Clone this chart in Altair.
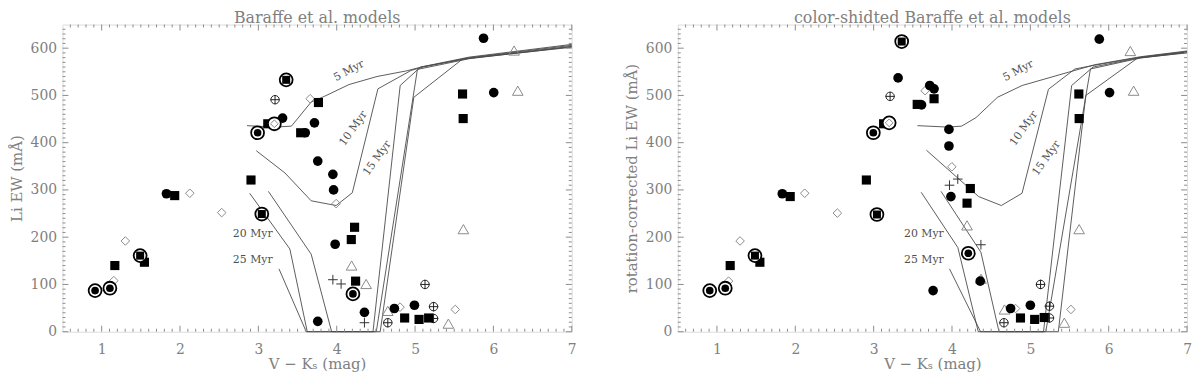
import altair as alt
import pandas as pd
import numpy as np

FONT = "DejaVu Serif"
TXT = "#808080"
AXC = "#8c8c8c"
LINEC = "#4a4a4a"
OPENC = "#8a8a8a"

W, H = 514, 310
X_DOMAIN = [0.5, 7.0]
Y_DOMAIN = [0, 650]
X_TICKS = [1, 2, 3, 4, 5, 6, 7]
Y_TICKS = [0, 100, 200, 300, 400, 500, 600]

TRACKS = ["5 Myr", "10 Myr", "15 Myr", "20 Myr", "25 Myr"]
LAB_ANGLE = [332, 305, 305, 0, 0]

# ---------------- left panel: Baraffe et al. models ----------------
L_5_X = [2.855, 3.213, 3.422, 3.674, 3.842, 4.157, 4.514, 4.892, 5.1, 5.688, 7.0]
L_5_Y = [436, 433, 435, 486, 498, 523, 540, 552, 561, 581, 608]
L_10_X = [2.973, 3.339, 3.674, 3.993, 4.199, 4.526, 4.95, 5.1, 5.7, 7.0]
L_10_Y = [383, 336, 277, 267, 294, 514, 553, 560, 580, 606]
L_15_X = [3.128, 3.674, 3.935, 4.463, 4.81, 5.07, 5.7, 7.0]
L_15_Y = [297, 164, 0, 0, 521, 560, 579, 604]
L_20_X = [2.889, 3.402, 3.624, 4.505, 5.03, 5.7, 7.0]
L_20_Y = [293, 175, 0, 0, 555, 578, 603]
L_25_X = [3.263, 3.611, 4.555, 4.984, 5.606, 7.0]
L_25_Y = [133, 0, 0, 496, 577, 602]
L_LAB_X = [4.157, 4.214, 4.518, 2.928, 2.928]
L_LAB_Y = [552, 430, 367, 206, 152]

L_CIRC_X = [1.827, 3.309, 3.598, 3.716, 3.758, 3.951, 3.96, 3.98, 3.758, 5.874, 6.004, 4.354, 4.736, 4.992]
L_CIRC_Y = [292, 452, 421, 442, 361, 333, 300, 185, 22, 621, 506, 41, 49, 56]
L_SQ_X = [1.168, 1.546, 1.932, 2.906, 3.12, 3.54, 3.767, 4.228, 4.186, 4.241, 5.606, 5.614, 4.867, 5.051, 5.173]
L_SQ_Y = [140, 147, 288, 321, 440, 421, 485, 221, 195, 107, 503, 451, 29, 26, 29]
L_RCIRC_X = [0.916, 1.105, 2.99, 4.207]
L_RCIRC_Y = [87, 92, 421, 80]
L_RSQ_X = [1.491, 3.044, 3.355]
L_RSQ_Y = [161, 249, 533]
L_RDIA_X = [3.204]
L_RDIA_Y = [440]
L_DIA_X = [1.155, 1.302, 2.125, 2.532, 3.661, 3.993, 4.808, 5.513]
L_DIA_Y = [108, 192, 293, 252, 493, 271, 52, 47]
L_TRI_X = [4.19, 4.375, 6.264, 6.311, 5.617, 5.425, 4.652]
L_TRI_Y = [140, 101, 595, 510, 217, 17, 44]
L_OPLUS_X = [3.213, 5.127, 5.236, 5.236, 4.652]
L_OPLUS_Y = [491, 100, 53, 28, 19]
L_PLUS_X = [3.951, 4.056, 4.354]
L_PLUS_Y = [110, 101, 19]

# ---------------- right panel: colour-shifted models ----------------
R_5_X = [3.559, 3.948, 4.123, 4.306, 4.58, 4.895, 5.484, 5.822, 6.411, 7.0]
R_5_Y = [436, 433, 435, 453, 496, 521, 549, 565, 582, 594]
R_10_X = [3.674, 4.34, 4.63, 4.894, 5.231, 5.569, 5.822, 6.411, 7.0]
R_10_Y = [384, 286, 267, 293, 513, 556, 564, 581, 593]
R_15_X = [3.86, 4.369, 4.6, 5.168, 5.527, 5.8, 6.4, 7.0]
R_15_Y = [297, 168, 0, 0, 521, 560, 580, 592]
R_20_X = [3.607, 4.075, 4.335, 5.197, 5.767, 6.4, 7.0]
R_20_Y = [295, 178, 0, 0, 556, 579, 591]
R_25_X = [3.968, 4.365, 5.357, 5.708, 6.368, 7.0]
R_25_Y = [133, 0, 0, 500, 579, 590]
R_LAB_X = [4.846, 4.918, 5.207, 3.641, 3.641]
R_LAB_Y = [552, 430, 367, 206, 152]

R_CIRC_X = [1.834, 3.312, 3.611, 3.716, 3.771, 3.961, 3.961, 3.986, 3.759, 4.36, 5.88, 6.011, 4.748, 5.0]
R_CIRC_Y = [292, 537, 480, 521, 514, 428, 393, 286, 87, 107, 619, 506, 49, 56]
R_SQ_X = [1.169, 1.548, 1.935, 2.907, 3.127, 3.556, 3.771, 4.234, 4.192, 5.619, 5.623, 4.874, 5.055, 5.177]
R_SQ_Y = [140, 147, 286, 321, 440, 481, 493, 303, 272, 503, 451, 29, 26, 30]
R_RCIRC_X = [0.908, 1.106, 2.996, 4.208]
R_RCIRC_Y = [87, 92, 421, 166]
R_RSQ_X = [1.485, 3.042, 3.358]
R_RSQ_Y = [161, 248, 614]
R_RDIA_X = [3.198]
R_RDIA_Y = [442]
R_DIA_X = [1.148, 1.295, 2.12, 2.537, 3.657, 3.998, 4.811, 5.518]
R_DIA_Y = [107, 192, 293, 251, 510, 349, 49, 47]
R_TRI_X = [4.192, 6.276, 6.318, 5.623, 5.434, 4.67, 4.37]
R_TRI_Y = [225, 594, 510, 217, 19, 47, 112]
R_OPLUS_X = [3.21, 5.13, 5.244, 5.244, 4.663]
R_OPLUS_Y = [498, 100, 54, 29, 19]
R_PLUS_X = [3.968, 4.074, 4.369]
R_PLUS_Y = [310, 323, 184]

xs = alt.Scale(domain=X_DOMAIN, nice=False, zero=False)
ys = alt.Scale(domain=Y_DOMAIN, nice=False, zero=False)
PLUS_PATH = "M-1,0H1M0,-1V1"

X_AXIS = alt.Axis(
    values=X_TICKS, format="d", ticks=False, tickSize=0, domain=False, grid=False,
    labelFont=FONT, labelFontSize=14, labelColor=TXT, labelPadding=11,
    labelFlush=False, labelOverlap=False,
    title="V − Kₛ (mag)", titleFont=FONT, titleFontSize=15, titleColor=TXT,
    titleFontWeight="normal", titlePadding=0)


def y_axis(title):
    return alt.Axis(
        values=Y_TICKS, format="d", ticks=False, tickSize=0, domain=False, grid=False,
        labelFont=FONT, labelFontSize=14, labelColor=TXT, labelPadding=6,
        labelOverlap=False,
        title=title, titleFont=FONT, titleFontSize=15, titleColor=TXT,
        titleFontWeight="normal", titlePadding=6)


def pts(x, y):
    return pd.DataFrame({"x": x, "y": y})


def panel(title, ytitle, tracks, lab_x, lab_y, m):
    YA = y_axis(ytitle)
    XE = alt.X("x:Q", scale=xs, axis=X_AXIS)
    YE = alt.Y("y:Q", scale=ys, axis=YA)

    def enc(ch):
        return ch.encode(x=XE, y=YE)

    rows = []
    for name, (tx, ty) in zip(TRACKS, tracks):
        for i, (a, b) in enumerate(zip(tx, ty)):
            rows.append({"track": name, "i": i, "x": a, "y": b})
    lines = alt.Chart(pd.DataFrame(rows)).mark_line(color=LINEC, strokeWidth=0.9).encode(
        x=XE, y=YE, detail="track:N", order="i:Q")

    labels = alt.Chart(pd.DataFrame({"t": TRACKS, "x": lab_x, "y": lab_y, "a": LAB_ANGLE})).mark_text(
        font=FONT, fontSize=11, color="#505050").encode(
        x=XE, y=YE, text="t:N", angle=alt.Angle("a:Q", scale=None))

    ticks = []
    x_minor = [v for v in np.round(np.arange(0.6, 7.0, 0.1), 1) if abs(v - round(v)) > 1e-6]
    y_minor = [v for v in range(10, 650, 10) if v % 100 != 0]
    for vals, L in ((X_TICKS, 6), (x_minor, 3)):
        b = alt.Chart(pd.DataFrame({"x": vals})).mark_rule(color=AXC, strokeWidth=1)
        ticks.append(b.encode(x=XE, y=alt.value(H), y2=alt.value(H - L)))
        ticks.append(b.encode(x=XE, y=alt.value(0), y2=alt.value(L)))
    for vals, L in ((Y_TICKS, 6), (y_minor, 3)):
        b = alt.Chart(pd.DataFrame({"y": vals})).mark_rule(color=AXC, strokeWidth=1)
        ticks.append(b.encode(y=YE, x=alt.value(0), x2=alt.value(L)))
        ticks.append(b.encode(y=YE, x=alt.value(W), x2=alt.value(W - L)))

    layers = [lines] + ticks
    layers.append(enc(alt.Chart(pts(*m["dia"])).mark_point(shape="diamond", filled=False, color=OPENC, strokeWidth=1, size=75, opacity=1)))
    layers.append(enc(alt.Chart(pts(*m["tri"])).mark_point(shape="triangle-up", filled=False, color=OPENC, strokeWidth=1, size=115, opacity=1)))
    layers.append(enc(alt.Chart(pts(*m["oplus"])).mark_point(shape="circle", filled=False, color="#222", strokeWidth=1, size=72, opacity=1)))
    layers.append(enc(alt.Chart(pts(*m["oplus"])).mark_point(shape=PLUS_PATH, filled=False, color="#222", strokeWidth=1, size=90, opacity=1)))
    layers.append(enc(alt.Chart(pts(*m["plus"])).mark_point(shape=PLUS_PATH, filled=False, color="#333", strokeWidth=1, size=95, opacity=1)))
    layers.append(enc(alt.Chart(pts(*m["sq"])).mark_point(shape="square", filled=True, color="black", size=85, opacity=1)))
    layers.append(enc(alt.Chart(pts(*m["circ"])).mark_point(shape="circle", filled=True, color="black", size=95, opacity=1)))
    rings_x = m["rcirc"][0] + m["rsq"][0] + m["rdia"][0]
    rings_y = m["rcirc"][1] + m["rsq"][1] + m["rdia"][1]
    layers.append(enc(alt.Chart(pts(rings_x, rings_y)).mark_point(shape="circle", filled=True, color="white", size=175, opacity=1)))
    layers.append(enc(alt.Chart(pts(rings_x, rings_y)).mark_point(shape="circle", filled=False, color="black", strokeWidth=1.8, size=170, opacity=1)))
    layers.append(enc(alt.Chart(pts(*m["rcirc"])).mark_point(shape="circle", filled=True, color="black", size=60, opacity=1)))
    layers.append(enc(alt.Chart(pts(*m["rsq"])).mark_point(shape="square", filled=True, color="black", size=65, opacity=1)))
    layers.append(enc(alt.Chart(pts(*m["rdia"])).mark_point(shape="diamond", filled=False, color=OPENC, strokeWidth=1, size=60, opacity=1)))
    layers.append(labels)

    return alt.layer(*layers).properties(
        width=W, height=H,
        title=alt.TitleParams(title, font=FONT, fontSize=16, color=TXT, fontWeight="normal",
                              anchor="middle", offset=-2))


left = panel(
    "Baraffe et al. models", "Li EW (mÅ)",
    [(L_5_X, L_5_Y), (L_10_X, L_10_Y), (L_15_X, L_15_Y), (L_20_X, L_20_Y), (L_25_X, L_25_Y)],
    L_LAB_X, L_LAB_Y,
    {"circ": (L_CIRC_X, L_CIRC_Y), "sq": (L_SQ_X, L_SQ_Y), "rcirc": (L_RCIRC_X, L_RCIRC_Y),
     "rsq": (L_RSQ_X, L_RSQ_Y), "rdia": (L_RDIA_X, L_RDIA_Y), "dia": (L_DIA_X, L_DIA_Y),
     "tri": (L_TRI_X, L_TRI_Y), "oplus": (L_OPLUS_X, L_OPLUS_Y), "plus": (L_PLUS_X, L_PLUS_Y)})

right = panel(
    "color-shidted Baraffe et al. models", "rotation-corrected Li EW (mÅ)",
    [(R_5_X, R_5_Y), (R_10_X, R_10_Y), (R_15_X, R_15_Y), (R_20_X, R_20_Y), (R_25_X, R_25_Y)],
    R_LAB_X, R_LAB_Y,
    {"circ": (R_CIRC_X, R_CIRC_Y), "sq": (R_SQ_X, R_SQ_Y), "rcirc": (R_RCIRC_X, R_RCIRC_Y),
     "rsq": (R_RSQ_X, R_RSQ_Y), "rdia": (R_RDIA_X, R_RDIA_Y), "dia": (R_DIA_X, R_DIA_Y),
     "tri": (R_TRI_X, R_TRI_Y), "oplus": (R_OPLUS_X, R_OPLUS_Y), "plus": (R_PLUS_X, R_PLUS_Y)})

chart = alt.hconcat(left, right, spacing=47).properties(padding=0).configure_view(
    stroke=AXC, strokeWidth=1).configure(background="white")

chart.save("out.html", embed_options={"renderer": "svg", "actions": False})
